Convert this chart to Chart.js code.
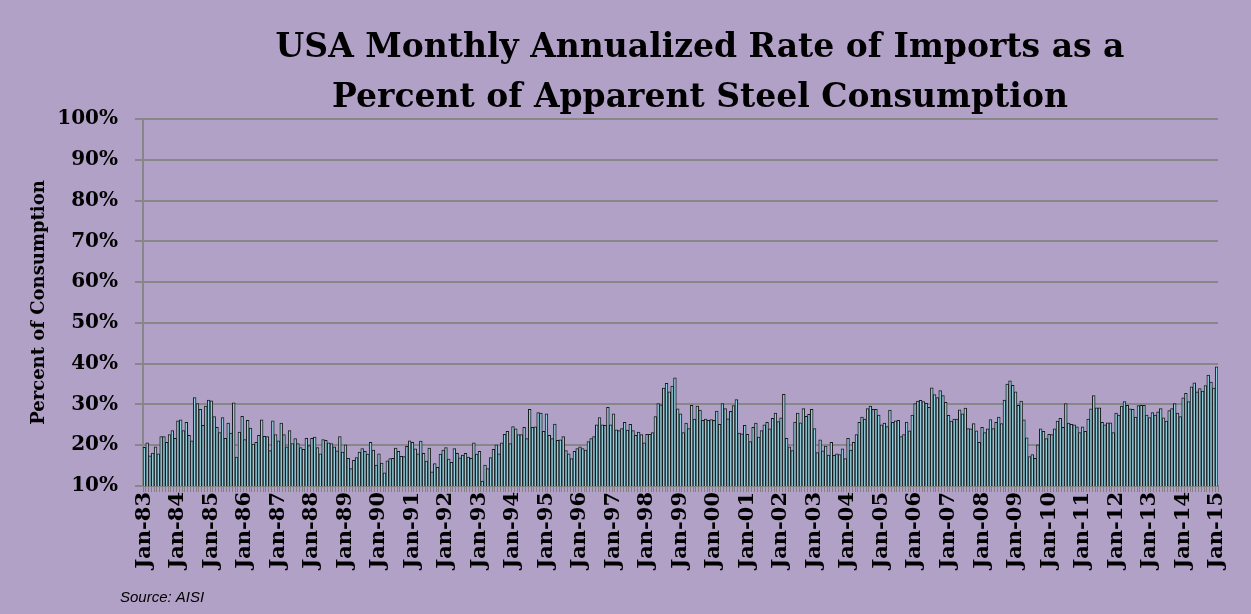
<!DOCTYPE html>
<html>
<head>
<meta charset="utf-8">
<script src="https://cdn.jsdelivr.net/npm/chart.js@4.4.0/dist/chart.umd.min.js"></script>
<style>
html,body{margin:0;padding:0;background:#B2A1C7;}
canvas{display:block;}
</style>
</head>
<body>
<canvas id="c" width="1251" height="614"></canvas>
<script>
// ---- text ----
const chartTitle = ['USA Monthly Annualized Rate of Imports as a', 'Percent of Apparent Steel Consumption'];
const yAxisTitle = 'Percent of Consumption';
const sourceNote = 'Source: AISI';
const monthNames = ['Jan','Feb','Mar','Apr','May','Jun','Jul','Aug','Sep','Oct','Nov','Dec'];
const firstYear = 1983;
const yTickStep = 10;
const yMin = 10;
const yMax = 100;

// ---- monthly import share (% of apparent consumption) ----
const shareJan83toNov85 = [19.5,20.6,17.4,18.1,19.6,17.9,22.1,22.1,20.7,22.6,23.6,21.7,26.0,26.2,23.6,25.6,22.4,21.1,31.7,30.2,28.8,24.9,29.6,31.1,30.9,27.0,24.4,23.1,26.8,21.7,25.4,23.0,30.4,17.1,23.2];
const shareDec85toNov88 = [27.1,21.4,26.1,24.2,20.3,20.7,22.4,26.2,22.2,22.1,18.7,26.0,22.6,21.1,25.4,22.6,19.6,23.6,20.4,21.6,20.4,19.4,19.0,21.7,19.9,21.7,22.0,19.4,17.9,21.4,21.2,20.6,20.4,19.6,18.6,22.1];
const shareDec88toOct91 = [18.3,20.1,16.8,14.3,16.3,17.0,18.3,19.2,18.5,17.8,20.7,18.8,15.1,17.9,15.6,13.2,16.2,16.7,16.8,19.3,18.5,17.3,17.2,19.7,21.1,20.7,19.1,17.9,21.0,18.0,16.1,19.3,13.5,15.5,14.6];
const shareNov91toOct94 = [17.8,18.8,19.4,16.6,15.8,19.2,18.0,16.9,17.6,18.0,17.1,16.8,20.6,17.8,18.5,11.2,15.1,14.3,17.0,19.0,20.1,17.9,20.6,22.7,23.4,20.4,24.6,24.0,22.6,22.6,24.4,21.6,28.8,24.4,24.5,28.0];
const shareNov94toOct97 = [27.9,23.4,27.7,22.4,21.6,25.2,21.2,21.3,22.1,18.7,17.9,16.7,18.5,19.2,19.6,19.2,18.8,20.9,21.6,22.1,25.0,26.8,25.0,24.9,29.3,25.0,27.7,23.8,23.6,24.1,25.6,23.7,25.1,23.6,22.4,23.2];
const shareNov97toOct00 = [22.6,20.6,22.7,22.7,23.1,27.0,30.2,29.9,34.0,35.2,33.1,34.5,36.5,28.9,27.7,23.1,25.4,24.1,29.8,26.4,29.6,28.6,26.1,26.4,26.1,26.3,26.1,28.4,25.1,30.2,29.0,26.5,28.3,29.7,31.2,23.0];
const shareNov00toOct03 = [22.8,24.9,22.7,20.9,24.4,25.4,22.0,23.6,25.0,25.6,24.0,26.6,27.9,25.8,26.7,32.5,21.7,19.6,18.7,25.7,27.9,25.5,29.0,27.1,27.6,28.8,24.1,18.2,21.3,18.6,19.8,17.6,20.7,17.5,17.9,17.7];
const shareNov03toOct06 = [19.1,16.7,21.7,18.8,20.7,22.6,25.6,26.9,26.4,29.0,29.6,28.8,28.8,27.4,25.0,25.4,24.6,28.6,25.6,26.0,26.1,22.1,22.6,25.7,23.5,27.4,30.2,30.8,31.0,30.7,30.3,29.3,34.1,32.4,31.7,33.4];
const shareNov06toOct09 = [32.2,30.5,27.3,25.9,26.4,26.4,28.7,27.7,29.1,24.1,24.0,25.3,23.5,20.7,24.4,23.1,24.0,26.3,24.1,25.6,26.9,25.3,31.1,35.0,35.8,34.7,33.1,29.8,30.8,26.2,21.8,17.2,17.7,16.8,20.1,24.0];
const shareNov09toOct12 = [23.4,21.6,22.7,22.6,24.0,25.9,26.6,24.4,30.2,25.4,25.1,25.0,24.5,23.1,24.5,23.4,26.4,28.9,32.2,29.2,29.2,25.6,25.0,25.5,25.5,23.1,27.9,27.4,29.6,30.7,29.8,28.9,28.8,26.9,29.7,29.8];
const shareNov12toJan15 = [29.8,27.4,26.8,28.0,27.4,28.2,29.0,26.7,25.9,28.5,29.0,30.2,27.9,27.0,31.6,32.7,30.7,34.3,35.3,33.1,33.9,33.3,34.6,37.2,35.5,34.0,39.2];

const importShare = [].concat(shareJan83toNov85, shareDec85toNov88, shareDec88toOct91, shareNov91toOct94,
  shareNov94toOct97, shareNov97toOct00, shareNov00toOct03, shareNov03toOct06, shareNov06toOct09,
  shareNov09toOct12, shareNov12toJan15);

const categories = importShare.map((_, i) =>
  monthNames[i % 12] + '-' + String((firstYear + Math.floor(i / 12)) % 100).padStart(2, '0'));

const serif = 'DejaVu Serif';

const textPlugin = {
  id: 'pageText',
  afterDraw(chart) {
    const ctx = chart.ctx;
    ctx.save();
    ctx.fillStyle = '#000';
    ctx.textBaseline = 'middle';
    ctx.textAlign = 'center';
    ctx.font = 'bold 33px "' + serif + '"';
    ctx.fillText(chartTitle[0], 700, 48);
    ctx.fillText(chartTitle[1], 700, 98);
    ctx.textAlign = 'left';
    ctx.font = 'italic 15px "Liberation Sans"';
    ctx.fillText(sourceNote, 120, 598);
    ctx.restore();
  }
};

new Chart(document.getElementById('c'), {
  type: 'bar',
  data: {
    labels: categories,
    datasets: [{
      data: importShare,
      backgroundColor: '#93CDDD',
      borderColor: '#1a1a1a',
      borderWidth: 1,
      barPercentage: 1,
      categoryPercentage: 1
    }]
  },
  options: {
    responsive: false,
    animation: false,
    devicePixelRatio: 1,
    layout: { padding: { left: 0, right: 33, top: 119, bottom: 0 } },
    plugins: {
      legend: { display: false },
      tooltip: { enabled: false },
      title: { display: false }
    },
    scales: {
      x: {
        offset: true,
        grid: { display: true, drawOnChartArea: false, drawTicks: true, tickLength: 6, color: '#808080', lineWidth: 1 },
        border: { display: true, color: '#808080', width: 2 },
        ticks: {
          autoSkip: false,
          minRotation: 90,
          maxRotation: 90,
          padding: 0,
          color: '#000',
          font: { family: serif, weight: 'bold', size: 21 },
          callback: function (v, i) { return i % 12 === 0 ? this.getLabelForValue(v) : ''; }
        },
        afterFit(scale) { scale.height = 128; }
      },
      y: {
        min: yMin,
        max: yMax,
        ticks: {
          stepSize: yTickStep,
          padding: 17,
          color: '#000',
          font: { family: serif, weight: 'bold', size: 20 },
          callback: v => v + '%'
        },
        grid: { color: '#878787', lineWidth: 2, tickLength: 8 },
        border: { color: '#878787', width: 2 },
        title: {
          display: true,
          text: yAxisTitle,
          color: '#000',
          font: { family: serif, weight: 'bold', size: 18 },
          padding: { top: 29, bottom: 0 }
        },
        afterFit(scale) { scale.width = 143; }
      }
    }
  },
  plugins: [textPlugin]
});
</script>
</body>
</html>
